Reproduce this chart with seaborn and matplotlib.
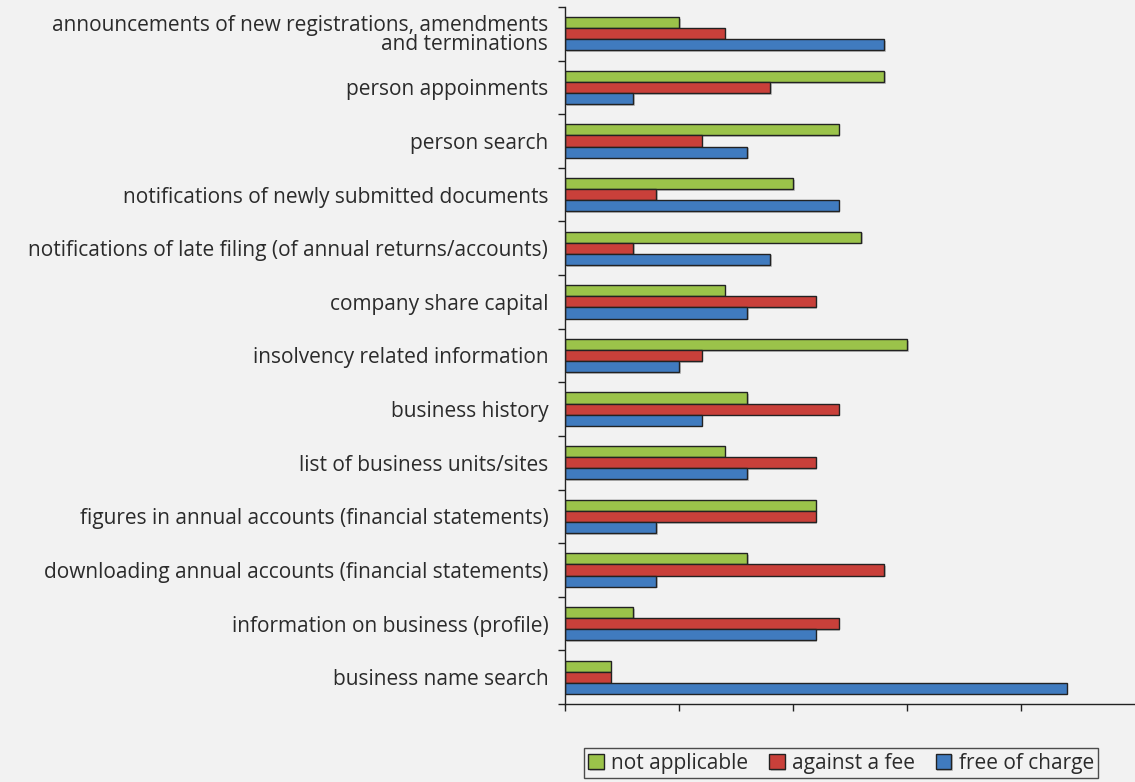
import numpy as np
import pandas as pd
import matplotlib
matplotlib.use("Agg")
import matplotlib.pyplot as plt
import matplotlib.patheffects as pe
from matplotlib.ticker import FixedLocator, NullFormatter
import seaborn as sns

categories = [
    "announcements of new registrations, amendments\nand terminations",
    "person appoinments",
    "person search",
    "notifications of newly submitted documents",
    "notifications of late filing (of annual returns/accounts)",
    "company share capital",
    "insolvency related information",
    "business history",
    "list of business units/sites",
    "figures in annual accounts (financial statements)",
    "downloading annual accounts (financial statements)",
    "information on business (profile)",
    "business name search",
]
series = ["not applicable", "against a fee", "free of charge"]
not_applicable = [5, 14, 12, 10, 13, 7, 15, 8, 7, 11, 8, 3, 2]
against_fee = [7, 9, 6, 4, 3, 11, 6, 12, 11, 11, 14, 12, 2]
free_of_charge = [14, 3, 8, 12, 9, 8, 5, 6, 8, 4, 4, 11, 22]
colors = ["#9bc34a", "#c9403a", "#407bbf"]

df = pd.DataFrame({
    "category": categories * 3,
    "series": [series[0]] * 13 + [series[1]] * 13 + [series[2]] * 13,
    "value": not_applicable + against_fee + free_of_charge,
})

sns.set_theme(style="white")
plt.rcParams["font.family"] = ["Open Sans", "DejaVu Sans"]
bg = "#f2f2f2"
text_color = "#2b2b2b"
fs = 15.0

fig = plt.figure(figsize=(11.35, 7.82), dpi=100, facecolor=bg)
ax = fig.add_axes([565 / 1135, 78 / 782, 1 - 565 / 1135, (704 - 7) / 782])
ax.set_facecolor(bg)

sns.barplot(data=df, y="category", x="value", hue="series", hue_order=series,
            order=categories, palette=colors, orient="h", width=0.62,
            edgecolor="#222222", linewidth=1.0, saturation=1, ax=ax,
            legend=True)

shadow = [pe.SimplePatchShadow(offset=(1.2, -1.2), shadow_rgbFace="#888888", alpha=0.45),
          pe.Normal()]
for p in ax.patches:
    p.set_path_effects(shadow)

ax.set_xlim(0, 25)
ax.set_ylim(len(categories) - 0.5, -0.5)
ax.set_xlabel("")
ax.set_ylabel("")

for s in ["top", "right"]:
    ax.spines[s].set_visible(False)
for s in ["left", "bottom"]:
    ax.spines[s].set_color("#222222")
    ax.spines[s].set_linewidth(1.0)

ax.set_xticks([0, 5, 10, 15, 20])
ax.set_xticklabels([])
ax.tick_params(axis="x", which="major", direction="out", length=5, width=1,
               color="#222222", bottom=True)

ax.yaxis.set_minor_locator(FixedLocator(np.arange(-0.5, len(categories), 1.0)))
ax.yaxis.set_minor_formatter(NullFormatter())
ax.tick_params(axis="y", which="minor", direction="out", length=5, width=1,
               color="#222222", left=True)
ax.tick_params(axis="y", which="major", length=0, pad=12,
               labelsize=fs, labelcolor=text_color)
for lbl in ax.get_yticklabels():
    lbl.set_multialignment("right")
    lbl.set_linespacing(0.85)

handles, labels = ax.get_legend_handles_labels()
ax.get_legend().remove()
leg = fig.legend(handles, labels, loc="center", ncol=3,
                 bbox_to_anchor=(841 / 1135, 1 - 763 / 782),
                 frameon=True, fancybox=False, fontsize=fs,
                 handlelength=0.75, handleheight=0.75, handletextpad=0.35,
                 columnspacing=1.0, borderpad=0.2, labelcolor=text_color)
leg.get_frame().set_edgecolor("#222222")
leg.get_frame().set_linewidth(1.0)
leg.get_frame().set_facecolor(bg)

fig.savefig("out.png", dpi=100, facecolor=bg)
